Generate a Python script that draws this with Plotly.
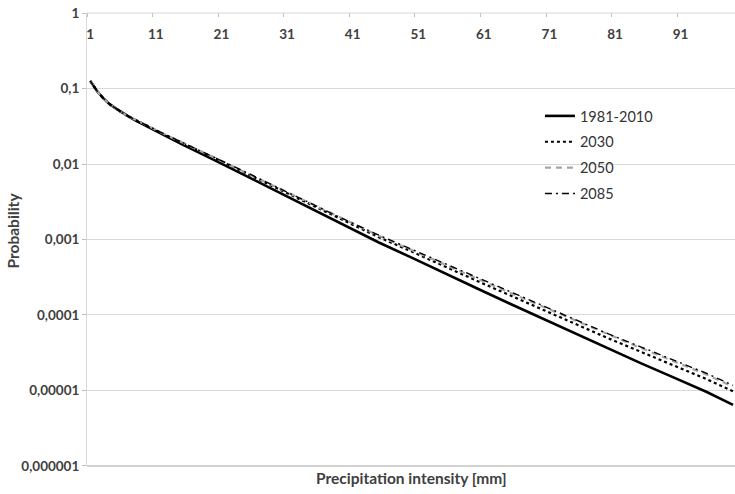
import plotly.graph_objects as go

# Precipitation intensity classes [mm]
intensity = [1, 2, 3, 4, 5, 6, 7, 8, 10, 12, 15, 20, 25, 30, 35, 40, 45, 50,
             55, 60, 65, 70, 75, 80, 85, 90, 95, 99]

# Exceedance probability per period
p_1981_2010 = [0.126, 0.0933, 0.0741, 0.0617, 0.0537, 0.0468, 0.0417, 0.0372,
               0.0302, 0.0245, 0.0182, 0.0112, 0.00676, 0.00407, 0.00245,
               0.00148, 0.000912, 0.000575, 0.000355, 0.000224, 0.000141,
               8.91e-5, 5.62e-5, 3.55e-5, 2.29e-5, 1.48e-5, 9.55e-6, 6.46e-6]
p_2030 = [0.126, 0.0933, 0.0741, 0.0617, 0.0537, 0.0468, 0.0422, 0.0380,
          0.0309, 0.0254, 0.0191, 0.0120, 0.00733, 0.00452, 0.00275,
          0.00170, 0.00107, 0.000692, 0.000437, 0.000282, 0.000182,
          1.17e-4, 7.59e-5, 4.90e-5, 3.24e-5, 2.14e-5, 1.41e-5, 9.77e-6]
p_2050 = [0.126, 0.0933, 0.0741, 0.0617, 0.0537, 0.0468, 0.0422, 0.0380,
          0.0313, 0.0257, 0.0193, 0.0122, 0.00750, 0.00462, 0.00285,
          0.00178, 0.00112, 0.000724, 0.000462, 0.000302, 0.000197,
          1.29e-4, 8.41e-5, 5.50e-5, 3.63e-5, 2.43e-5, 1.62e-5, 1.12e-5]
p_2085 = [0.126, 0.0933, 0.0741, 0.0617, 0.0537, 0.0468, 0.0422, 0.0380,
          0.0313, 0.0257, 0.0195, 0.0123, 0.00759, 0.00468, 0.00288,
          0.00180, 0.00114, 0.000741, 0.000473, 0.000309, 0.000202,
          1.32e-4, 8.61e-5, 5.62e-5, 3.76e-5, 2.51e-5, 1.68e-5, 1.17e-5]

x_tick_vals = [1, 11, 21, 31, 41, 51, 61, 71, 81, 91]
x_tick_text = [str(v) for v in x_tick_vals]
x_minor_vals = [0.5, 10.5, 20.5, 30.5, 40.5, 50.5, 60.5, 70.5, 80.5, 90.5]
y_tick_vals = [1, 0.1, 0.01, 0.001, 0.0001, 0.00001, 0.000001]
y_tick_text = ["1", "0,1", "0,01", "0,001", "0,0001", "0,00001", "0,000001"]

FONT = "Lato, 'Open Sans', sans-serif"
TXT = "#404040"

fig = go.Figure()
series = [
    ("1981-2010", p_1981_2010, dict(color="#000000", width=2.6, dash="solid")),
    ("2030", p_2030, dict(color="#000000", width=2.2, dash="dot")),
    ("2050", p_2050, dict(color="#a6a6a6", width=2.2, dash="6px,5px")),
    ("2085", p_2085, dict(color="#000000", width=1.4, dash="7px,4px,2px,4px")),
]
for name, ys, ln in series:
    fig.add_trace(go.Scatter(x=intensity, y=ys, mode="lines", name=name,
                             legendgroup=name, line=ln))

fig.update_layout(
    width=735, height=494,
    margin=dict(l=87, r=0, t=13, b=28),
    paper_bgcolor="white", plot_bgcolor="white",
    font=dict(family=FONT, color=TXT),
    showlegend=True,
    legend=dict(x=0.699, y=0.808, xanchor="left", yanchor="top",
                bgcolor="rgba(0,0,0,0)", font=dict(size=14.5, color="#333333"),
                itemwidth=30, tracegroupgap=4),
    xaxis=dict(
        range=[0.5, 99.3], side="top",
        tickvals=x_tick_vals, ticktext=x_tick_text,
        ticks="", ticklabelposition="inside", ticklabeloverflow="allow",
        tickfont=dict(size=13.5, family=FONT, color=TXT, weight="bold"),
        ticklabelstandoff=14,
        minor=dict(tickvals=x_minor_vals, ticks="inside", ticklen=4,
                   tickcolor="#bfbfbf", showgrid=False),
        showgrid=False, zeroline=False,
        showline=False,
    ),
    yaxis=dict(
        type="log", range=[-6.0005, 0.0005],
        tickvals=y_tick_vals, ticktext=y_tick_text,
        ticks="outside", ticklen=4, tickcolor="#bfbfbf",
        ticklabeloverflow="allow",
        tickfont=dict(size=13.5, family=FONT, color=TXT, weight="bold"),
        showgrid=True, gridcolor="#d9d9d9", gridwidth=1,
        showline=True, linecolor="#d9d9d9", linewidth=1,
        zeroline=False,
    ),
)

# Top and bottom boundaries of the plot area
fig.add_shape(type="line", xref="paper", yref="paper", x0=0, x1=1, y0=1, y1=1,
              line=dict(color="#d9d9d9", width=1))
fig.add_shape(type="line", xref="paper", yref="paper", x0=0, x1=1, y0=0, y1=0,
              line=dict(color="#a6a6a6", width=1))

fig.add_annotation(text="Precipitation intensity [mm]", xref="paper",
                   yref="paper", x=0.5, y=0, yshift=-23, showarrow=False,
                   font=dict(size=15.5, family=FONT, color=TXT, weight="bold"))
fig.add_annotation(text="Probability", xref="paper", yref="paper",
                   x=0, xshift=-86, y=0.5, yshift=9, textangle=-90,
                   showarrow=False,
                   font=dict(size=15.5, family=FONT, color=TXT, weight="bold"))

fig.write_html("out.html")
